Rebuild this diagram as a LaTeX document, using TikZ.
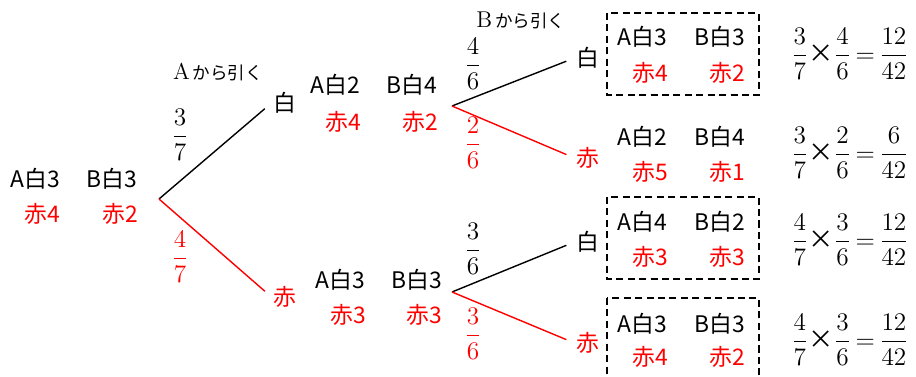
\documentclass[tikz,border=0pt]{standalone}
\usepackage{amsmath}
\usepackage{fontspec}
\newfontfamily\jpfont{Noto Sans CJK JP}
\tikzset{
  every node/.style={font=\jpfont\fontsize{13}{15}\selectfont, inner sep=1pt},
  aka/.style={text=red},
  frac/.style={font=\jpfont\fontsize{12}{14}\selectfont, scale=1.2},
  note/.style={font=\jpfont\fontsize{10}{12}\selectfont},
  branch/.style={line width=0.8pt, shorten >=5pt},
  box/.style={line width=1.1pt, dash pattern=on 4pt off 2.5pt}
}
\begin{document}
\begin{tikzpicture}[x=0.02cm,y=-0.02cm]
\useasboundingbox (0,0) rectangle (916,376);

\node (a0) at (35,179) {A白3};
\node (b0) at (112,179) {B白3};
\node[aka] (ar0) at (42,214) {赤4};
\node[aka] (br0) at (120,214) {赤2};
\coordinate (r0) at (159,199);
\node (w1) at (285,103) {白};
\node[aka] (k1) at (285,297) {赤};
\draw[branch] (r0) -- (w1.west);
\draw[branch,red] (r0) -- (k1.west);
\node[frac] (p1) at (180,135) {$\dfrac{3}{7}$};
\node[frac,aka] (q1) at (180,257) {$\dfrac{4}{7}$};
\node[note] (ta) at (218,72) {{\normalfont\fontsize{13}{15}\selectfont A}\,から引く};

\node (a1) at (335,85) {A白2};
\node (b1) at (412,85) {B白4};
\node[aka] (ar1) at (343,122) {赤4};
\node[aka] (br1) at (420,122) {赤2};
\coordinate (r1) at (452,106);
\node (w2) at (588,58) {白};
\node[aka] (k2) at (588,158) {赤};
\draw[branch] (r1) -- (w2.west);
\draw[branch,red] (r1) -- (k2.west);
\node[frac] (p2) at (473,64) {$\dfrac{4}{6}$};
\node[frac,aka] (q2) at (473,143) {$\dfrac{2}{6}$};
\node[note] (tb) at (521,20) {{\normalfont\fontsize{13}{15}\selectfont B}\,から引く};

\node (a2) at (340,280) {A白3};
\node (b2) at (417,280) {B白3};
\node[aka] (ar2) at (348,315) {赤3};
\node[aka] (br2) at (424,315) {赤3};
\coordinate (r2) at (452,292);
\node (w3) at (588,242) {白};
\node[aka] (k3) at (588,343) {赤};
\draw[branch] (r2) -- (w3.west);
\draw[branch,red] (r2) -- (k3.west);
\node[frac] (p3) at (473,249) {$\dfrac{3}{6}$};
\node[frac,aka] (q3) at (473,334) {$\dfrac{3}{6}$};

\node (a3) at (642,37) {A白3};
\node (b3) at (720,37) {B白3};
\node[aka] (ar3) at (650,73) {赤4};
\node[aka] (br3) at (727,73) {赤2};
\draw[box] (607,13) rectangle (759,95);
\node[frac] (f1) at (850,54) {$\dfrac{3}{7}$×$\dfrac{4}{6}$\,$=$\,$\dfrac{12}{42}$};

\node (a4) at (642,137) {A白2};
\node (b4) at (720,137) {B白4};
\node[aka] (ar4) at (650,172) {赤5};
\node[aka] (br4) at (727,172) {赤1};
\node[frac] (f2) at (850,153) {$\dfrac{3}{7}$×$\dfrac{2}{6}$\,$=$\,$\dfrac{6}{42}$};

\node (a5) at (642,222) {A白4};
\node (b5) at (720,222) {B白2};
\node[aka] (ar5) at (650,257) {赤3};
\node[aka] (br5) at (727,257) {赤3};
\draw[box] (607,197) rectangle (759,279);
\node[frac] (f3) at (850,240) {$\dfrac{4}{7}$×$\dfrac{3}{6}$\,$=$\,$\dfrac{12}{42}$};

\node (a6) at (642,324) {A白3};
\node (b6) at (720,324) {B白3};
\node[aka] (ar6) at (650,357) {赤4};
\node[aka] (br6) at (727,357) {赤2};
\draw[box] (607,298) rectangle (759,392);
\node[frac] (f4) at (850,340) {$\dfrac{4}{7}$×$\dfrac{3}{6}$\,$=$\,$\dfrac{12}{42}$};
\end{tikzpicture}
\end{document}
